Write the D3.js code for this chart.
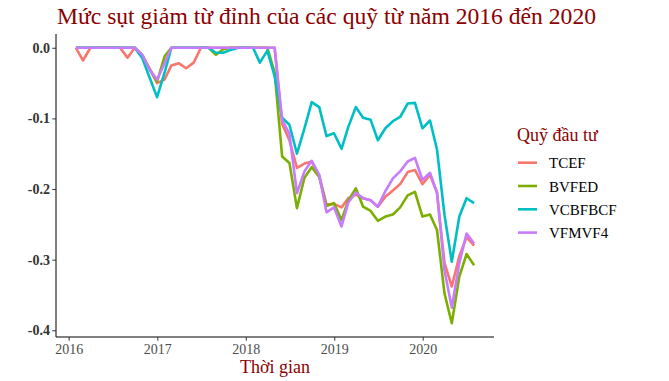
<!DOCTYPE html>
<meta charset="utf-8">
<style>
body { margin: 0; background: #fff; }
svg { font-family: "Liberation Serif", "Times New Roman", serif; }
.series path { fill: none; stroke-width: 2.6px; stroke-linejoin: round; }
.axis path, .axis line { stroke: #000; stroke-width: 1px; }
.axis .tick line { stroke: #333; }
</style>
<body>
<svg width="669" height="381"></svg>
<script src="https://d3js.org/d3.v7.min.js"></script>
<script>

// month-end dates, Jan 2016 .. Jul 2020
var months = [];
for (var yr = 2016; yr <= 2020; yr++) {
  for (var mo = 1; mo <= 12; mo++) {
    if (yr == 2020 && mo > 7) break;
    months.push(new Date(yr, mo, 0));
  }
}

var funds = ["TCEF", "BVFED", "VCBFBCF", "VFMVF4"];
var colors = ["#F8766D", "#7CAE00", "#00BFC4", "#C77CFF"];

var tcef = [0, -0.018, 0, 0, 0, 0, 0, -0.014, 0, -0.012, -0.030, -0.050,
  -0.045, -0.025, -0.022, -0.029, -0.021, 0, 0, 0, 0, 0, 0, 0,
  0, 0, 0, 0, -0.108, -0.131, -0.170, -0.164, -0.161, -0.181, -0.222, -0.221,
  -0.226, -0.213, -0.208, -0.213, -0.216, -0.225, -0.211, -0.202, -0.193, -0.176, -0.173, -0.193,
  -0.180, -0.205, -0.305, -0.338, -0.295, -0.268, -0.280];

var bvfed = [0, 0, 0, 0, 0, 0, 0, 0, 0, -0.010, -0.030, -0.048,
  -0.012, 0, 0, 0, 0, 0, 0, -0.010, -0.002, 0, 0, 0,
  0, 0, 0, -0.035, -0.154, -0.163, -0.227, -0.184, -0.169, -0.183, -0.224, -0.220,
  -0.244, -0.216, -0.199, -0.225, -0.231, -0.245, -0.239, -0.236, -0.226, -0.209, -0.204, -0.239,
  -0.236, -0.258, -0.348, -0.390, -0.324, -0.292, -0.308];

var vcbfbcf = [0, 0, 0, 0, 0, 0, 0, 0, 0, -0.015, -0.042, -0.070,
  -0.035, 0, 0, 0, 0, 0, 0, -0.007, -0.007, -0.003, 0, 0,
  0, -0.021, -0.004, -0.040, -0.099, -0.109, -0.150, -0.114, -0.077, -0.084, -0.125, -0.121,
  -0.143, -0.112, -0.084, -0.099, -0.102, -0.131, -0.114, -0.104, -0.098, -0.079, -0.078, -0.114,
  -0.103, -0.144, -0.237, -0.303, -0.239, -0.213, -0.220];

var vfmvf4 = [0, 0, 0, 0, 0, 0, 0, 0, 0, -0.010, -0.031, -0.045,
  -0.022, 0, 0, 0, 0, 0, 0, 0, 0, 0, 0, 0,
  0, 0, 0, 0, -0.102, -0.122, -0.206, -0.175, -0.160, -0.180, -0.233, -0.226,
  -0.253, -0.219, -0.205, -0.213, -0.216, -0.225, -0.203, -0.185, -0.175, -0.161, -0.156, -0.187,
  -0.177, -0.205, -0.315, -0.368, -0.305, -0.263, -0.277];

var yTicks = [0, -0.1, -0.2, -0.3, -0.4];

var seriesValues = [tcef, bvfed, vcbfbcf, vfmvf4];
var series = funds.map(function(f, i) {
  return { name: f, color: colors[i],
    values: months.map(function(d, j) { return { date: d, v: seriesValues[i][j] }; }) };
});

var svg = d3.select("svg");
var pLeft = 56, pRight = 494, pTop = 34, pBottom = 337;

// ggplot style 5% expansion
var xExt = d3.extent(months), xPad = (xExt[1] - xExt[0]) * 0.05;
var x = d3.scaleTime()
    .domain([new Date(+xExt[0] - xPad), new Date(+xExt[1] + xPad)])
    .range([pLeft, pRight]);

var allV = d3.merge(seriesValues);
var yExt = d3.extent(allV), yPad = (yExt[1] - yExt[0]) * 0.05;
var y = d3.scaleLinear()
    .domain([yExt[0] - yPad, yExt[1] + yPad])
    .range([pBottom, pTop]);

var line = d3.line()
    .x(function(d) { return x(d.date); })
    .y(function(d) { return y(d.v); });

svg.append("g")
    .attr("class", "series")
  .selectAll("path")
  .data(series)
  .enter().append("path")
    .attr("stroke", function(d) { return d.color; })
    .attr("d", function(d) { return line(d.values); });

// axes
var yAxis = svg.append("g")
    .attr("class", "axis")
    .attr("transform", "translate(" + pLeft + ",0)")
    .call(d3.axisLeft(y).tickValues(yTicks).tickSize(3.7).tickPadding(2.3)
      .tickFormat(function(d) { return d.toFixed(1); }));
yAxis.select(".domain").attr("d", "M0," + pTop + "V" + pBottom);
yAxis.selectAll("text")
    .attr("fill", "#333")
    .style("font-size", "14px")
    .style("font-weight", "bold")
    .style("font-family", "Liberation Serif");

var xAxis = svg.append("g")
    .attr("class", "axis")
    .attr("transform", "translate(0," + pBottom + ")")
    .call(d3.axisBottom(x).ticks(d3.timeYear.every(1)).tickSize(3.7).tickPadding(3.6)
      .tickFormat(d3.timeFormat("%Y")));
xAxis.select(".domain").attr("d", "M" + pLeft + ",0H" + pRight);
xAxis.selectAll("text")
    .attr("fill", "#4d4d4d")
    .style("font-size", "14px")
    .style("font-family", "Liberation Serif");

// title and axis title
svg.append("text")
    .attr("x", 57)
    .attr("y", 24)
    .attr("fill", "#8B0000")
    .style("font-size", "23.6px")
    .text("Mức sụt giảm từ đỉnh của các quỹ từ năm 2016 đến 2020");

svg.append("text")
    .attr("x", (pLeft + pRight) / 2)
    .attr("y", 373)
    .attr("text-anchor", "middle")
    .attr("fill", "#8B0000")
    .style("font-size", "18px")
    .text("Thời gian");

// legend
var legend = svg.append("g").attr("transform", "translate(517,0)");
legend.append("text")
    .attr("x", 0)
    .attr("y", 141)
    .attr("fill", "#8B0000")
    .style("font-size", "18px")
    .text("Quỹ đầu tư");

var item = legend.selectAll(".item")
    .data(series)
  .enter().append("g")
    .attr("class", "item")
    .attr("transform", function(d, i) { return "translate(0," + (162.7 + i * 23.3) + ")"; });
item.append("line")
    .attr("x1", 1).attr("x2", 20)
    .attr("stroke", function(d) { return d.color; })
    .attr("stroke-width", 2.6);
item.append("text")
    .attr("x", 32)
    .attr("y", 5.5)
    .attr("fill", "#000")
    .style("font-size", "15px")
    .text(function(d) { return d.name; });

</script>
</body>
